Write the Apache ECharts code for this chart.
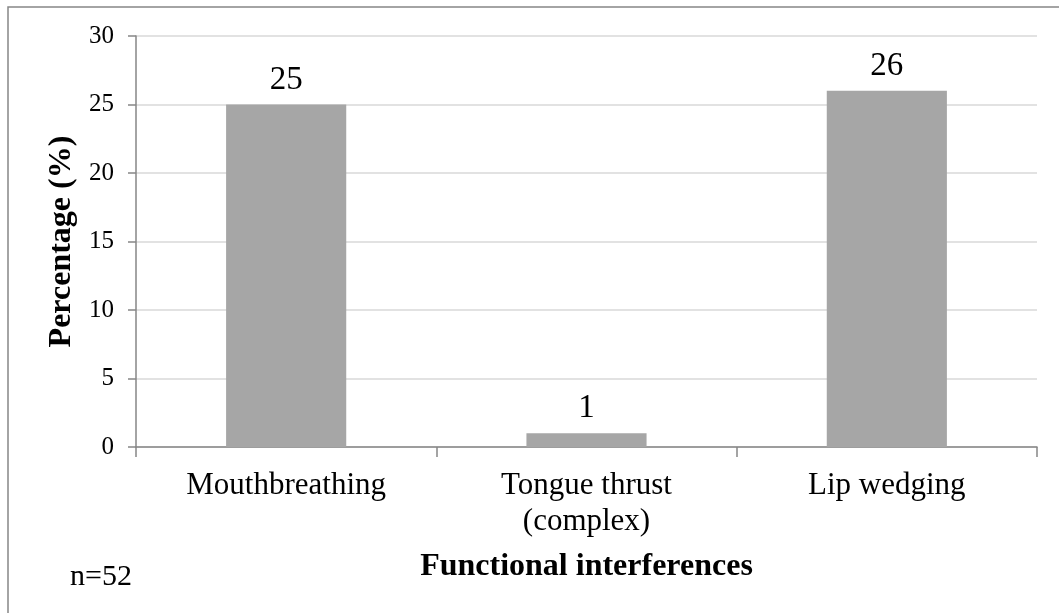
<!DOCTYPE html>
<html>
<head>
<meta charset="utf-8">
<script src="https://cdn.jsdelivr.net/npm/echarts@6/dist/echarts.min.js"></script>
<style>
html,body{margin:0;padding:0;background:#fff;}
#chart{width:1059px;height:613px;}
</style>
</head>
<body>
<div id="chart"></div>
<script>
const categories = ['Mouthbreathing', 'Tongue thrust\n(complex)', 'Lip wedging'];
const values = [25, 1, 26];
const yTicks = {min: 0, max: 30, interval: 5};
const xTitle = 'Functional interferences';
const yTitle = 'Percentage (%)';
const note = 'n=52';

const FONT = '"Liberation Serif", "Times New Roman", serif';
const chart = echarts.init(document.getElementById('chart'), null, {renderer: 'canvas'});
chart.setOption({
  backgroundColor: '#ffffff',
  animation: false,
  grid: {left: 136, top: 36, right: 22, bottom: 166, containLabel: false},
  xAxis: {
    type: 'category',
    data: categories,
    name: xTitle,
    nameLocation: 'middle',
    nameGap: 104,
    nameTextStyle: {fontFamily: FONT, fontSize: 32, fontWeight: 'bold', color: '#000'},
    axisLine: {lineStyle: {color: '#868686', width: 1.5}},
    axisTick: {show: true, length: 10, alignWithLabel: false, lineStyle: {color: '#868686', width: 1.5}},
    axisLabel: {fontFamily: FONT, fontSize: 31, color: '#000', margin: 21, lineHeight: 36, interval: 0}
  },
  yAxis: {
    type: 'value',
    min: yTicks.min, max: yTicks.max, interval: yTicks.interval,
    name: yTitle,
    nameLocation: 'middle',
    nameGap: 58,
    nameTextStyle: {fontFamily: FONT, fontSize: 32, fontWeight: 'bold', color: '#000'},
    axisLine: {show: true, lineStyle: {color: '#868686', width: 1.5}},
    axisTick: {show: true, length: 8, lineStyle: {color: '#868686', width: 1.5}},
    axisLabel: {fontFamily: FONT, fontSize: 25, color: '#000', margin: 22},
    splitLine: {lineStyle: {color: '#d9d9d9', width: 1.5}}
  },
  series: [{
    type: 'bar',
    data: values,
    barCategoryGap: '60%',
    itemStyle: {color: '#a6a6a6'},
    label: {show: true, position: 'top', distance: 8, fontFamily: FONT, fontSize: 33, color: '#000'}
  }],
  graphic: [
    {type: 'rect', shape: {x: 8, y: 7, width: 1200, height: 800}, style: {fill: 'none', stroke: '#878787', lineWidth: 1.5}, silent: true, z: -1},
    {type: 'text', left: 70, top: 562, style: {text: note, fontFamily: FONT, fontSize: 30, fill: '#000'}}
  ]
});
</script>
</body>
</html>
